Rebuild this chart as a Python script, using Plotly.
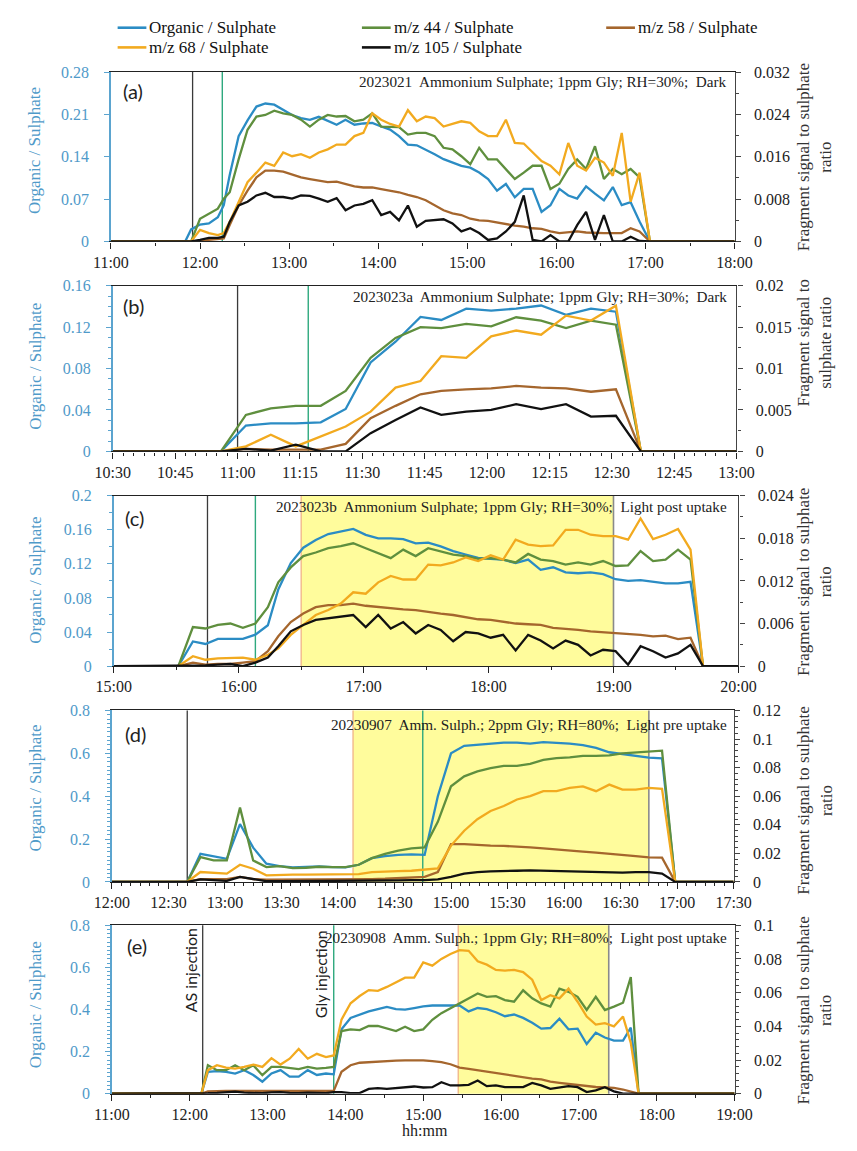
import plotly.graph_objects as go

W, H = 857, 1151
DAY = "2023-01-01 "

SERIES = ["Organic / Sulphate", "m/z 44 / Sulphate", "m/z 58 / Sulphate",
          "m/z 68 / Sulphate", "m/z 105 / Sulphate"]
KEYS = ["org", "m44", "m58", "m68", "m105"]
COLORS = {"org": "#2B8CC4", "m44": "#5F8F3E", "m58": "#A5662D",
          "m68": "#F2AA1F", "m105": "#111111"}

# ---------------- Panel (a) ----------------
a_time = ["11:00", "11:50", "11:54", "12:00", "12:06", "12:12", "12:16", "12:20", "12:26", "12:32",
          "12:38", "12:44", "12:50", "12:56", "13:02", "13:08", "13:14", "13:20", "13:26", "13:32",
          "13:38", "13:44", "13:50", "13:56", "14:02", "14:08", "14:14", "14:20", "14:26", "14:32",
          "14:38", "14:44", "14:50", "14:56", "15:02", "15:08", "15:14", "15:20", "15:26", "15:32",
          "15:38", "15:44", "15:50", "15:56", "16:02", "16:08", "16:14", "16:20", "16:26", "16:32",
          "16:38", "16:44", "16:50", "16:56", "17:03", "18:00"]
a_org = [0, 0, 0.02, 0.028, 0.03, 0.04, 0.06, 0.11, 0.174, 0.20,
         0.223, 0.228, 0.226, 0.218, 0.209, 0.204, 0.201, 0.206, 0.199, 0.193,
         0.201, 0.193, 0.195, 0.196, 0.19, 0.185, 0.174, 0.16, 0.159, 0.152,
         0.144, 0.136, 0.131, 0.125, 0.122, 0.114, 0.103, 0.084, 0.095, 0.073,
         0.087, 0.087, 0.049, 0.06, 0.087, 0.076, 0.071, 0.091, 0.079, 0.068,
         0.09, 0.06, 0.065, 0.033, 0, 0]
a_m44 = [0, 0, 0, 0.0043, 0.0053, 0.0062, 0.0081, 0.0093, 0.0155, 0.0211,
         0.0236, 0.0239, 0.0247, 0.0242, 0.0239, 0.023, 0.0217, 0.023, 0.0239, 0.0236,
         0.0237, 0.0227, 0.023, 0.0242, 0.0217, 0.0217, 0.0216, 0.0202, 0.0205, 0.0205,
         0.0199, 0.0177, 0.0174, 0.0161, 0.0146, 0.0177, 0.0155, 0.0155, 0.0137, 0.0118,
         0.013, 0.0143, 0.0143, 0.0099, 0.0109, 0.0137, 0.0155, 0.0137, 0.018, 0.0118,
         0.0137, 0.0127, 0.0137, 0.0121, 0, 0]
a_m58 = [0, 0, 0, 0, 0.0003, 0.0005, 0.0006, 0.0031, 0.0068, 0.0096,
         0.0121, 0.0134, 0.0134, 0.0132, 0.0127, 0.0121, 0.0118, 0.0115, 0.0112, 0.0113,
         0.0109, 0.0104, 0.0102, 0.0102, 0.0099, 0.0096, 0.0093, 0.0088, 0.0084, 0.0078,
         0.0068, 0.0059, 0.0053, 0.005, 0.0043, 0.004, 0.0039, 0.0036, 0.0032, 0.003,
         0.0028, 0.0025, 0.0024, 0.0019, 0.0016, 0.0017, 0.0019, 0.0017, 0.0016, 0.0016,
         0.0016, 0.0016, 0.0025, 0.0019, 0, 0]
a_m68 = [0, 0, 0, 0.0022, 0.0016, 0.0012, 0.0016, 0.0037, 0.0075, 0.0112,
         0.013, 0.0149, 0.0143, 0.0168, 0.0161, 0.0165, 0.0158, 0.0168, 0.0174, 0.0183,
         0.0183, 0.0199, 0.0205, 0.0242, 0.023, 0.0222, 0.0217, 0.0248, 0.0227, 0.0236,
         0.0233, 0.0217, 0.0222, 0.0227, 0.0224, 0.0208, 0.0199, 0.0199, 0.023, 0.0186,
         0.0185, 0.0168, 0.0152, 0.0143, 0.0127, 0.0186, 0.0143, 0.0134, 0.0158, 0.0149,
         0.0124, 0.0205, 0.0075, 0.013, 0, 0]
a_m105 = [0, 0, 0, 0.0003, 0.0007, 0.0007, 0.0009, 0.0037, 0.0068, 0.0075,
          0.0087, 0.0092, 0.0084, 0.0084, 0.0081, 0.0087, 0.0086, 0.0081, 0.0075, 0.0082,
          0.0059, 0.0068, 0.0071, 0.0078, 0.005, 0.0056, 0.004, 0.0068, 0.0028, 0.0039,
          0.004, 0.0042, 0.0034, 0.0019, 0.0025, 0.0016, 0.0003, 0.0006, 0.0019, 0.0037,
          0.0087, 0.0003, 0, 0.0012, 0, 0, 0.0031, 0.0056, 0.0003, 0.005,
          0, 0, 0.0009, 0.0001, 0, 0]

# ---------------- Panel (b) ----------------
b_time = ["10:30", "10:56", "11:02", "11:08", "11:14", "11:20", "11:26", "11:32", "11:38", "11:44",
          "11:49", "11:55", "12:01", "12:07", "12:13", "12:19", "12:25", "12:31", "12:37", "13:00"]
b_org = [0, 0, 0.025, 0.027, 0.027, 0.028, 0.041, 0.086, 0.106, 0.130,
         0.127, 0.138, 0.136, 0.138, 0.141, 0.132, 0.138, 0.135, 0, 0]
b_m44 = [0, 0, 0.0044, 0.0052, 0.0055, 0.0055, 0.0073, 0.0113, 0.0137, 0.0150,
         0.0149, 0.0154, 0.0151, 0.0162, 0.0158, 0.0149, 0.0158, 0.0153, 0, 0]
b_m58 = [0, 0, 0.0003, 0.0002, 0.0002, 0.0002, 0.0009, 0.0040, 0.0055, 0.0069,
         0.0073, 0.0075, 0.0076, 0.0079, 0.0077, 0.0076, 0.0072, 0.0075, 0, 0]
b_m68 = [0, 0, 0.0006, 0.0020, 0.0006, 0.0018, 0.0030, 0.0048, 0.0077, 0.0085,
         0.0115, 0.0113, 0.0139, 0.0146, 0.0141, 0.0164, 0.0158, 0.0176, 0, 0]
b_m105 = [0, 0, 0.0003, 0.0001, 0.0008, 0, 0, 0.0022, 0.0038, 0.0053,
          0.0044, 0.0048, 0.0050, 0.0057, 0.0051, 0.0057, 0.0042, 0.0043, 0, 0]

# ---------------- Panel (c) ----------------
c_time = ["15:00", "15:31", "15:38", "15:44", "15:50", "15:56", "16:02", "16:08", "16:14", "16:19",
          "16:25", "16:31", "16:37", "16:43", "16:49", "16:55", "17:01", "17:07", "17:13", "17:19",
          "17:25", "17:31", "17:37", "17:43", "17:49", "17:55", "18:01", "18:07", "18:13", "18:19",
          "18:25", "18:31", "18:37", "18:43", "18:49", "18:55", "19:01", "19:07", "19:13", "19:19",
          "19:25", "19:31", "19:37", "19:43", "20:00"]
c_org = [0, 0, 0.029, 0.026, 0.032, 0.032, 0.032, 0.037, 0.048, 0.090,
         0.121, 0.139, 0.148, 0.155, 0.158, 0.161, 0.154, 0.150, 0.150, 0.149,
         0.144, 0.145, 0.1405, 0.135, 0.131, 0.127, 0.126, 0.125, 0.121, 0.125,
         0.113, 0.116, 0.110, 0.109, 0.110, 0.108, 0.102, 0.100, 0.101, 0.099,
         0.097, 0.097, 0.099, 0, 0]
c_m44 = [0, 0, 0.0055, 0.0053, 0.0058, 0.006, 0.0054, 0.006, 0.0083, 0.0118,
         0.0139, 0.0155, 0.016, 0.0166, 0.0169, 0.0173, 0.0166, 0.0159, 0.0152, 0.0164,
         0.0155, 0.0166, 0.0162, 0.0157, 0.0155, 0.0151, 0.0152, 0.015, 0.0146, 0.0158,
         0.015, 0.0148, 0.0143, 0.0146, 0.0143, 0.0148, 0.0141, 0.0142, 0.0162, 0.0148,
         0.015, 0.0164, 0.015, 0, 0]
c_m58 = [0, 0, 0.0005, 0.0002, 0.0003, 0.0003, 0.0005, 0.0007, 0.0021, 0.0042,
         0.0062, 0.0074, 0.0083, 0.0086, 0.0086, 0.0088, 0.0085, 0.0083, 0.0081, 0.008,
         0.0079, 0.0076, 0.0074, 0.0072, 0.0069, 0.0066, 0.0065, 0.0062, 0.006, 0.0059,
         0.0058, 0.0054, 0.0053, 0.0051, 0.0049, 0.0048, 0.0046, 0.0045, 0.0044, 0.0042,
         0.0043, 0.0038, 0.004, 0, 0]
c_m68 = [0, 0, 0.0014, 0.0009, 0.0011, 0.0012, 0.0012, 0.0009, 0.0016, 0.0025,
         0.0044, 0.0058, 0.0072, 0.0079, 0.0088, 0.0104, 0.0102, 0.0118, 0.0127, 0.0122,
         0.0122, 0.0143, 0.0142, 0.0146, 0.0153, 0.0148, 0.0156, 0.015, 0.0178, 0.0171,
         0.0169, 0.017, 0.0192, 0.0192, 0.0185, 0.0183, 0.0183, 0.0178, 0.0208, 0.0179,
         0.0185, 0.0193, 0.0164, 0, 0]
c_m105 = [0, 0, 0.0001, 0.0001, 0.0002, 0.0003, 0, 0.0005, 0.0012, 0.0028,
          0.0049, 0.0058, 0.0065, 0.0067, 0.0069, 0.0072, 0.0055, 0.0072, 0.0053, 0.0062,
          0.0046, 0.0058, 0.0051, 0.0035, 0.0048, 0.0046, 0.004, 0.0044, 0.0022, 0.0044,
          0.0036, 0.0025, 0.0036, 0.003, 0.0015, 0.0023, 0.0021, 0.0002, 0.0028, 0.0021,
          0.0012, 0.0018, 0.003, 0, 0]

# ---------------- Panel (d) ----------------
d_time = ["12:00", "12:40", "12:47", "12:54", "13:01", "13:08", "13:15", "13:22", "13:29", "13:36",
          "13:43", "13:50", "13:57", "14:04", "14:11", "14:18", "14:25", "14:32", "14:39", "14:46",
          "14:53", "15:00", "15:07", "15:14", "15:21", "15:28", "15:35", "15:42", "15:49", "15:56",
          "16:03", "16:10", "16:17", "16:24", "16:31", "16:38", "16:45", "16:52", "16:59", "17:30"]
d_org = [0, 0, 0.131, 0.12, 0.108, 0.27, 0.16, 0.085, 0.074, 0.068,
         0.069, 0.072, 0.069, 0.068, 0.08, 0.111, 0.12, 0.126, 0.128, 0.126,
         0.40, 0.6, 0.635, 0.64, 0.645, 0.65, 0.65, 0.645, 0.652, 0.65,
         0.645, 0.638, 0.625, 0.605, 0.597, 0.588, 0.58, 0.577, 0, 0]
d_m44 = [0, 0, 0.0173, 0.015, 0.015, 0.052, 0.015, 0.0104, 0.0111, 0.0097,
         0.0099, 0.0106, 0.0104, 0.0104, 0.012, 0.0166, 0.0196, 0.0219, 0.0235, 0.0242,
         0.042, 0.0669, 0.0739, 0.0773, 0.0796, 0.0812, 0.0812, 0.0826, 0.0854, 0.0866,
         0.0872, 0.0882, 0.0882, 0.0886, 0.09, 0.0905, 0.0912, 0.0919, 0, 0]
d_m58 = [0, 0, 0.002, 0.002, 0.002, 0.0035, 0.002, 0.0015, 0.0015, 0.0015,
         0.0015, 0.0015, 0.0015, 0.0015, 0.0018, 0.002, 0.0022, 0.0025, 0.0028, 0.0035,
         0.0069, 0.0265, 0.0265, 0.0258, 0.0254, 0.0252, 0.0249, 0.0242, 0.0235, 0.0226,
         0.0219, 0.0212, 0.0205, 0.0195, 0.0188, 0.018, 0.0172, 0.017, 0, 0]
d_m68 = [0, 0, 0.0069, 0.0065, 0.0058, 0.012, 0.0092, 0.0046, 0.0051, 0.0051,
         0.0051, 0.0053, 0.0051, 0.0053, 0.0055, 0.0069, 0.0074, 0.0076, 0.0078, 0.0085,
         0.0095, 0.0254, 0.0358, 0.0439, 0.0496, 0.0531, 0.0577, 0.06, 0.0635, 0.0635,
         0.0658, 0.0669, 0.0635, 0.0681, 0.0646, 0.0646, 0.0658, 0.0651, 0, 0]
d_m105 = [0, 0, 0.0018, 0.0012, 0.0007, 0.0035, 0.0018, 0.0005, 0.0005, 0.0005,
          0.0005, 0.0005, 0.0005, 0.0007, 0.0007, 0.001, 0.001, 0.001, 0.0012, 0.0012,
          0.0018, 0.0035, 0.0058, 0.0069, 0.0074, 0.0074, 0.0078, 0.0081, 0.0078, 0.0076,
          0.0072, 0.007, 0.007, 0.0065, 0.0065, 0.0069, 0.0069, 0.0058, 0, 0]

# ---------------- Panel (e) ----------------
e_time = ["11:00", "12:09", "12:14", "12:21", "12:28", "12:35", "12:42", "12:49", "12:56", "13:03",
          "13:10", "13:17", "13:24", "13:31", "13:38", "13:45", "13:51", "13:57", "14:04", "14:11",
          "14:18", "14:25", "14:32", "14:39", "14:46", "14:53", "15:00", "15:07", "15:14", "15:21",
          "15:28", "15:35", "15:42", "15:49", "15:56", "16:03", "16:10", "16:17", "16:24", "16:31",
          "16:38", "16:45", "16:52", "16:59", "17:06", "17:13", "17:20", "17:27", "17:34", "17:40",
          "17:46", "19:00"]
e_org = [0, 0, 0.104, 0.107, 0.104, 0.096, 0.112, 0.089, 0.057, 0.096,
         0.112, 0.081, 0.081, 0.112, 0.089, 0.096, 0.092, 0.306, 0.36, 0.376,
         0.391, 0.402, 0.412, 0.402, 0.399, 0.407, 0.415, 0.419, 0.419, 0.419,
         0.419, 0.391, 0.407, 0.402, 0.387, 0.368, 0.376, 0.36, 0.337, 0.309,
         0.312, 0.356, 0.306, 0.309, 0.236, 0.29, 0.267, 0.252, 0.252, 0.314,
         0, 0]
e_m44 = [0, 0, 0.0169, 0.014, 0.014, 0.0169, 0.014, 0.0169, 0.011, 0.0159,
         0.0159, 0.0153, 0.0146, 0.0159, 0.0149, 0.0153, 0.0159, 0.0372, 0.0382, 0.0378,
         0.0402, 0.0402, 0.0386, 0.0372, 0.0398, 0.0372, 0.0382, 0.0439, 0.0478, 0.0507,
         0.0536, 0.0566, 0.0595, 0.0575, 0.0579, 0.0556, 0.0546, 0.0614, 0.0566, 0.0536,
         0.0517, 0.0624, 0.0605, 0.0575, 0.0497, 0.0575, 0.0497, 0.0517, 0.054, 0.0692,
         0, 0]
e_m58 = [0, 0, 0.0014, 0.0017, 0.0017, 0.0017, 0.0017, 0.0017, 0.0017, 0.0017,
         0.0017, 0.0017, 0.0017, 0.0017, 0.0017, 0.0017, 0.0017, 0.013, 0.0169, 0.0184,
         0.0188, 0.0192, 0.0192, 0.0196, 0.0198, 0.02, 0.0198, 0.0193, 0.0187, 0.0175,
         0.0155, 0.0148, 0.014, 0.0128, 0.0122, 0.0115, 0.0105, 0.0098, 0.009, 0.0085,
         0.0072, 0.0065, 0.0058, 0.005, 0.0045, 0.004, 0.0038, 0.0035, 0.0025, 0.0012,
         0, 0]
e_m68 = [0, 0, 0.014, 0.0169, 0.0155, 0.0149, 0.0159, 0.0173, 0.0159, 0.0211,
         0.0173, 0.0208, 0.0266, 0.0208, 0.0237, 0.0217, 0.0227, 0.044, 0.0537, 0.058,
         0.0615, 0.0611, 0.0634, 0.0663, 0.0689, 0.0689, 0.078, 0.076, 0.08, 0.0829,
         0.0852, 0.0848, 0.0786, 0.0766, 0.0735, 0.0731, 0.0735, 0.0722, 0.0677, 0.0556,
         0.0585, 0.0566, 0.0624, 0.0546, 0.0458, 0.041, 0.0419, 0.04, 0.0458, 0.0302,
         0, 0]
e_m105 = [0, 0, 0.0003, 0.0005, 0.0008, 0.0012, 0.0006, 0.0004, 0.0003, 0.0008,
          0.001, 0.0005, 0.0003, 0.0006, 0.0004, 0.0003, 0.001, 0.001, 0.0004, 0.0004,
          0.0029, 0.0033, 0.0029, 0.0033, 0.0037, 0.0043, 0.0037, 0.0039, 0.0068, 0.0049,
          0.0049, 0.0053, 0.0078, 0.0045, 0.0049, 0.0039, 0.0039, 0.0039, 0.0064, 0.0049,
          0.0029, 0.0039, 0.0045, 0.0039, 0.001, 0.002, 0.0039, 0.0014, 0, 0,
          0, 0]

# event times: AS injection (black), Gly injection (green), light period (yellow)
a_events = {"as": "11:55", "gly": "12:15", "light": None}
b_events = {"as": "11:00", "gly": "11:17", "light": None}
c_events = {"as": "15:45", "gly": "16:08", "light": ("16:30", "19:00")}
d_events = {"as": "12:40", "gly": "14:45", "light": ("14:08", "16:45")}
e_events = {"as": "12:10", "gly": "13:51", "light": ("15:27", "17:23")}

# axis scales / ticks
a_left_ticks = [0, 0.07, 0.14, 0.21, 0.28]
a_left_text = ["0", "0.07", "0.14", "0.21", "0.28"]
a_right_ticks = [0, 0.008, 0.016, 0.024, 0.032]
a_right_text = ["0", "0.008", "0.016", "0.024", "0.032"]
b_left_ticks = [0, 0.04, 0.08, 0.12, 0.16]
b_left_text = ["0", "0.04", "0.08", "0.12", "0.16"]
b_right_ticks = [0, 0.005, 0.01, 0.015, 0.02]
b_right_text = ["0", "0.005", "0.01", "0.015", "0.02"]
c_left_ticks = [0, 0.04, 0.08, 0.12, 0.16, 0.2]
c_left_text = ["0", "0.04", "0.08", "0.12", "0.16", "0.2"]
c_right_ticks = [0, 0.006, 0.012, 0.018, 0.024]
c_right_text = ["0", "0.006", "0.012", "0.018", "0.024"]
d_left_ticks = [0, 0.2, 0.4, 0.6, 0.8]
d_left_text = ["0", "0.2", "0.4", "0.6", "0.8"]
d_right_ticks = [0, 0.02, 0.04, 0.06, 0.08, 0.1, 0.12]
d_right_text = ["0", "0.02", "0.04", "0.06", "0.08", "0.1", "0.12"]
e_left_ticks = [0, 0.2, 0.4, 0.6, 0.8]
e_left_text = ["0", "0.2", "0.4", "0.6", "0.8"]
e_right_ticks = [0, 0.02, 0.04, 0.06, 0.08, 0.1]
e_right_text = ["0", "0.02", "0.04", "0.06", "0.08", "0.1"]

titles = [
    "2023021  Ammonium Sulphate; 1ppm Gly; RH=30%;  Dark",
    "2023023a  Ammonium Sulphate; 1ppm Gly; RH=30%;  Dark",
    "2023023b  Ammonium Sulphate; 1ppm Gly; RH=30%;  Light post uptake",
    "20230907  Amm. Sulph.; 2ppm Gly; RH=80%;  Light pre uptake",
    "20230908  Amm. Sulph.; 1ppm Gly; RH=80%;  Light post uptake",
]
right_titles = [
    "Fragment signal to sulphate<br>ratio",
    "Fragment signal to<br>sulphate ratio",
    "Fragment signal to sulphate<br>ratio",
    "Fragment signal to sulphate<br>ratio",
    "Fragment signal to sulphate<br>ratio",
]

panels = [
    dict(lab="(a)", t=a_time, org=a_org, m44=a_m44, m58=a_m58, m68=a_m68, m105=a_m105, ev=a_events,
         xr=("11:00", "18:00"), dt=60, mdt=30, lt=a_left_ticks, ltx=a_left_text, lmin=None,
         rt=a_right_ticks, rtx=a_right_text, rmin=0.004,
         box=(97, 748, 65, 237), labxy=(107, 84), tity=75, ltitle_y=145, rtitle_y=152),
    dict(lab="(b)", t=b_time, org=b_org, m44=b_m44, m58=b_m58, m68=b_m68, m105=b_m105, ev=b_events,
         xr=("10:30", "13:00"), dt=15, mdt=2.5, lt=b_left_ticks, ltx=b_left_text, lmin=0.01,
         rt=b_right_ticks, rtx=b_right_text, rmin=0.0025,
         box=(99, 750, 282, 450), labxy=(108, 302), tity=293, ltitle_y=364, rtitle_y=340),
    dict(lab="(c)", t=c_time, org=c_org, m44=c_m44, m58=c_m58, m68=c_m68, m105=c_m105, ev=c_events,
         xr=("15:00", "20:00"), dt=60, mdt=30, lt=c_left_ticks, ltx=c_left_text, lmin=0.02,
         rt=c_right_ticks, rtx=c_right_text, rmin=0.003,
         box=(100, 752, 495, 668), labxy=(110, 518), tity=506, ltitle_y=581, rtitle_y=583),
    dict(lab="(d)", t=d_time, org=d_org, m44=d_m44, m58=d_m58, m68=d_m68, m105=d_m105, ev=d_events,
         xr=("12:00", "17:30"), dt=30, mdt=5, lt=d_left_ticks, ltx=d_left_text, lmin=0.02,
         rt=d_right_ticks, rtx=d_right_text, rmin=0.004,
         box=(98, 747, 713, 887), labxy=(110, 737), tity=727, ltitle_y=792, rtitle_y=805),
    dict(lab="(e)", t=e_time, org=e_org, m44=e_m44, m58=e_m58, m68=e_m68, m105=e_m105, ev=e_events,
         xr=("11:00", "19:00"), dt=60, mdt=30, lt=e_left_ticks, ltx=e_left_text, lmin=0.02,
         rt=e_right_ticks, rtx=e_right_text, rmin=0.004,
         box=(98, 748, 931, 1102), labxy=(112, 952), tity=943, ltitle_y=1012, rtitle_y=1018),
]

SERIF = "Times New Roman, Liberation Serif, DejaVu Serif, serif"
SANS = "Lato, Open Sans, sans-serif"
BLUE_TXT = "#4F9AC9"
MIN = 60000

fig = go.Figure()
layout = dict(width=W, height=H, margin=dict(l=0, r=0, t=0, b=0),
              paper_bgcolor="white", plot_bgcolor="white", showlegend=False,
              font=dict(family=SERIF, size=16, color="#222"))
shapes, annotations = [], []


def fx(p):
    return p / W


def fy(p):
    return 1 - p / H


for i, p in enumerate(panels):
    xref = "x" if i == 0 else f"x{i+1}"
    ylid, yrid = 2 * i + 1, 2 * i + 2
    ylref = "y" if ylid == 1 else f"y{ylid}"
    yrref = f"y{yrid}"
    xs = [DAY + t for t in p["t"]]

    fig.add_trace(go.Scatter(x=xs, y=p["org"], xaxis=xref, yaxis=ylref, mode="lines",
                             name=SERIES[0], line=dict(color=COLORS["org"], width=2.3)))
    for k, nm in zip(KEYS[1:], SERIES[1:]):
        fig.add_trace(go.Scatter(x=xs, y=p[k], xaxis=xref, yaxis=yrref, mode="lines",
                                 name=nm, line=dict(color=COLORS[k], width=2.3)))

    l, r, t, b = p["box"]
    xkey = "xaxis" if i == 0 else f"xaxis{i+1}"
    ylkey = "yaxis" if ylid == 1 else f"yaxis{ylid}"
    yrkey = f"yaxis{yrid}"

    layout[xkey] = dict(domain=[fx(l), fx(r)], anchor=ylref, type="date",
                        range=[DAY + p["xr"][0], DAY + p["xr"][1]],
                        tick0=DAY + "00:00", dtick=p["dt"] * MIN, tickformat="%H:%M",
                        showline=True, linecolor="#222", linewidth=1.3, mirror=True,
                        ticks="outside", ticklen=6, tickcolor="#222", tickwidth=1.2,
                        minor=dict(dtick=p["mdt"] * MIN, tick0=DAY + "00:00", ticks="outside",
                                   ticklen=3, tickcolor="#222"),
                        showgrid=False, zeroline=False, fixedrange=True,
                        tickfont=dict(family=SERIF, size=16, color="#222"))
    lmin = dict(dtick=p["lmin"], tick0=0, ticks="outside", ticklen=3,
                tickcolor="#5BA4CF") if p["lmin"] else None
    yl = dict(domain=[fy(b), fy(t)], anchor=xref, range=[0, p["lt"][-1]],
              tickmode="array", tickvals=p["lt"], ticktext=p["ltx"],
              showline=True, linecolor="#5BA4CF", linewidth=1.6,
              ticks="outside", ticklen=5, tickcolor="#5BA4CF", ticklabelstandoff=12,
              showgrid=False, zeroline=False,
              tickfont=dict(family=SERIF, size=16, color=BLUE_TXT))
    if lmin:
        yl["minor"] = lmin
    layout[ylkey] = yl
    layout[yrkey] = dict(overlaying=ylref, side="right", anchor=xref, range=[0, p["rt"][-1]],
                         tickmode="array", tickvals=p["rt"], ticktext=p["rtx"],
                         showline=True, linecolor="#444", linewidth=1.3,
                         ticks="outside", ticklen=5, tickcolor="#444", ticklabelstandoff=10,
                         minor=dict(dtick=p["rmin"], tick0=0, ticks="outside", ticklen=3,
                                    tickcolor="#444"),
                         showgrid=False, zeroline=False,
                         tickfont=dict(family=SERIF, size=16, color="#222"))

    ev = p["ev"]
    ydom = f"{ylref} domain"
    if ev["light"]:
        x0, x1 = DAY + ev["light"][0], DAY + ev["light"][1]
        shapes.append(dict(type="rect", xref=xref, yref=ydom, x0=x0, x1=x1, y0=0, y1=1,
                           fillcolor="#FFFC9C", line=dict(width=0), layer="below"))
        shapes.append(dict(type="line", xref=xref, yref=ydom, x0=x0, x1=x0, y0=0, y1=1,
                           line=dict(color="#F2B98A", width=1.4), layer="below"))
        shapes.append(dict(type="line", xref=xref, yref=ydom, x0=x1, x1=x1, y0=0, y1=1,
                           line=dict(color="#8A8A8A", width=1.6), layer="below"))
    shapes.append(dict(type="line", xref=xref, yref=ydom, x0=DAY + ev["as"], x1=DAY + ev["as"],
                       y0=0, y1=1, line=dict(color="#3A3A3A", width=1.3), layer="below"))
    shapes.append(dict(type="line", xref=xref, yref=ydom, x0=DAY + ev["gly"], x1=DAY + ev["gly"],
                       y0=0, y1=1, line=dict(color="#2EA97E", width=1.4), layer="below"))

    annotations.append(dict(text=p["lab"], xref="paper", yref="paper", x=fx(p["labxy"][0]),
                            y=fy(p["labxy"][1]), xanchor="left", yanchor="middle", showarrow=False,
                            font=dict(family=SANS, size=20, color="#222")))
    annotations.append(dict(text=titles[i], xref="paper", yref="paper", x=fx(742), y=fy(p["tity"]),
                            xanchor="right", yanchor="middle", showarrow=False,
                            font=dict(family=SERIF, size=15.2, color="#222")))
    annotations.append(dict(text="Organic / Sulphate", xref="paper", yref="paper", x=fx(18),
                            y=fy(p["ltitle_y"]), xanchor="center", yanchor="middle",
                            textangle=-90, showarrow=False,
                            font=dict(family=SERIF, size=17, color=BLUE_TXT)))
    annotations.append(dict(text=right_titles[i], xref="paper", yref="paper", x=fx(855),
                            y=fy(p["rtitle_y"]), xanchor="right", yanchor="middle",
                            textangle=-90, showarrow=False,
                            font=dict(family=SERIF, size=17, color="#333")))

annotations.append(dict(text="AS injection", xref="x5", yref="paper", x=DAY + e_events["as"],
                        y=fy(977), xanchor="center", yanchor="middle", xshift=-12,
                        textangle=-90, showarrow=False,
                        font=dict(family=SANS, size=16, color="#222")))
annotations.append(dict(text="Gly injection", xref="x5", yref="paper", x=DAY + e_events["gly"],
                        y=fy(981), xanchor="center", yanchor="middle", xshift=-13,
                        textangle=-90, showarrow=False,
                        font=dict(family=SANS, size=16, color="#222")))
annotations.append(dict(text="hh:mm", xref="paper", yref="paper", x=fx(425), y=fy(1139),
                        xanchor="center", yanchor="middle", showarrow=False,
                        font=dict(family=SERIF, size=16, color="#222")))

legend_pos = [(104, 20), (359, 20), (614, 20), (104, 40), (359, 40)]
for (lx, ly), k, nm in zip(legend_pos, KEYS, SERIES):
    shapes.append(dict(type="line", xref="paper", yref="paper", x0=fx(lx), x1=fx(lx + 30),
                       y0=fy(ly), y1=fy(ly), line=dict(color=COLORS[k], width=2.6)))
    annotations.append(dict(text=nm, xref="paper", yref="paper", x=fx(lx + 31), y=fy(ly),
                            xanchor="left", yanchor="middle", showarrow=False,
                            font=dict(family=SERIF, size=17, color="#111")))

layout["shapes"] = shapes
layout["annotations"] = annotations
fig.update_layout(**layout)
fig.write_html("out.html")
